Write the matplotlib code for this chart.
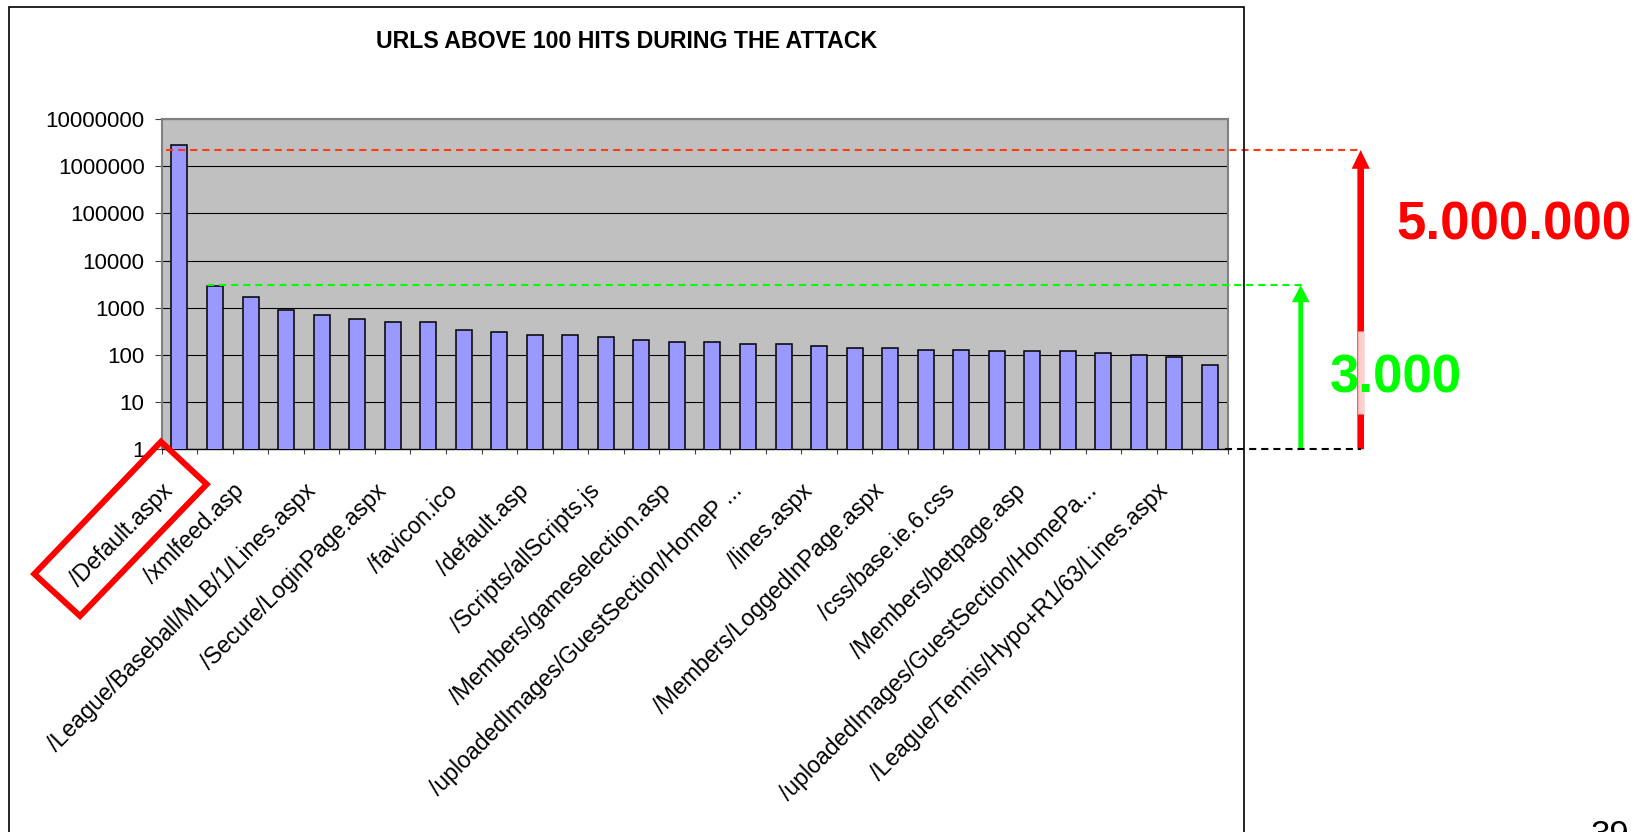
import matplotlib
matplotlib.use('Agg')
import matplotlib.pyplot as plt
import matplotlib.transforms as mtransforms
from matplotlib.patches import Polygon, Rectangle
from matplotlib.ticker import NullLocator
import numpy as np

W, H = 1643, 832

# hits per URL during the attack, sorted descending
hits = [2870000, 2930, 1700, 890, 700, 580, 487, 487, 345, 313,
        266, 266, 241, 205, 185, 185, 171, 171, 158, 143,
        143, 130, 130, 122, 122, 122, 110, 101, 91, 60]

# only every second URL gets a label on the axis
url_labels = ['/Default.aspx', '/xmlfeed.asp', '/League/Baseball/MLB/1/Lines.aspx',
              '/Secure/LoginPage.aspx', '/favicon.ico', '/default.asp',
              '/Scripts/allScripts.js', '/Members/gameselection.asp',
              '/uploadedImages/GuestSection/HomeP ...', '/lines.aspx',
              '/Members/LoggedInPage.aspx', '/css/base.ie.6.css',
              '/Members/betpage.asp', '/uploadedImages/GuestSection/HomePa...',
              '/League/Tennis/Hypo+R1/63/Lines.aspx']

y_ticks = [1, 10, 100, 1000, 10000, 100000, 1000000, 10000000]
y_tick_labels = ['1', '10', '100', '1000', '10000', '100000', '1000000', '10000000']

peak_level = 2200000
normal_level = 3000

plt.rcParams['font.family'] = ['Liberation Sans', 'DejaVu Sans']


def fx(px):
    return px / W


def fy(py):
    return 1 - py / H


fig = plt.figure(figsize=(W / 100, H / 100), dpi=100)
fig.patch.set_facecolor('white')

# chart frame
fig.add_artist(Rectangle((fx(9), fy(845)), fx(1244.3) - fx(9), fy(7.3) - fy(845),
                         transform=fig.transFigure, fill=False, edgecolor='black', lw=1.2))

ax = fig.add_axes([fx(161.7), fy(449.3), fx(1227.7) - fx(161.7), fy(119) - fy(449.3)])
ax.set_facecolor('#c0c0c0')

x = np.arange(len(hits))
ax.bar(x, hits, width=0.45, color='#9999ff', edgecolor='black', linewidth=1.1, zorder=3)

ax.set_yscale('log')
ax.set_ylim(1, 1e7)
ax.set_xlim(-0.5, len(hits) - 0.5)
ax.set_yticks(y_ticks)
ax.set_yticklabels(y_tick_labels, fontsize=16)
ax.yaxis.set_minor_locator(NullLocator())
ax.grid(axis='y', color='black', lw=0.8, zorder=1)

ax.set_xticks(np.arange(-0.5, len(hits)))
ax.set_xticklabels([])
ax.tick_params(axis='x', direction='out', length=3.6, width=0.8, color='#404040')
ax.tick_params(axis='y', direction='out', length=4.8, width=0.8, color='#404040', pad=7.5)

for side in ['top', 'right', 'left']:
    ax.spines[side].set_color('#808080')
    ax.spines[side].set_linewidth(1.5)
ax.spines['bottom'].set_color('black')
ax.spines['bottom'].set_linewidth(1.0)

label_shift = mtransforms.ScaledTranslation(-18 / 100, -30 / 100, fig.dpi_scale_trans)
label_trans = mtransforms.blended_transform_factory(ax.transData, ax.transAxes) + label_shift
for i, name in enumerate(url_labels):
    ax.text(x[i * 2], 0, name, transform=label_trans, rotation=45, rotation_mode='anchor',
            ha='right', va='top', fontsize=16.7)

fig.text(fx(626.5), fy(41.7), 'URLS ABOVE 100 HITS DURING THE ATTACK',
         ha='center', va='center', fontsize=16.7, fontweight='bold')

# guide lines and arrows showing the jump in traffic
guide = mtransforms.blended_transform_factory(fig.transFigure, ax.transData)
dash = (0, (3.4, 2.4))
ax.plot([fx(165.7), fx(1361)], [peak_level, peak_level], transform=guide,
        color='#ff3c14', lw=1.5, ls=dash, clip_on=False, zorder=5)
ax.plot([fx(207), fx(1302)], [normal_level, normal_level], transform=guide,
        color='#00ff00', lw=1.5, ls=dash, clip_on=False, zorder=5)
ax.plot([fx(1225), fx(1361)], [1, 1], transform=guide,
        color='black', lw=1.5, ls=dash, clip_on=False, zorder=5)

ax.annotate('', xy=(fx(1300.7), normal_level), xytext=(fx(1300.7), 1),
            xycoords=guide, textcoords=guide, annotation_clip=False,
            arrowprops=dict(width=3.4, headwidth=12.7, headlength=12.2, shrink=0,
                            color='#00ff00', lw=0))
ax.annotate('', xy=(fx(1360.7), peak_level), xytext=(fx(1360.7), 1),
            xycoords=guide, textcoords=guide, annotation_clip=False,
            arrowprops=dict(width=4.8, headwidth=13, headlength=13.5, shrink=0,
                            color='#ff0000', lw=0))
fig.add_artist(plt.Line2D([fx(1360.7), fx(1360.7)], [fy(331), fy(414.3)],
                          transform=fig.transFigure, color='#ffd0d0', lw=4.8,
                          solid_capstyle='butt'))

fig.text(fx(1396.7), fy(240), '5.000.000', color='#ff0000', fontsize=38,
         fontweight='bold', ha='left', va='baseline')
fig.text(fx(1330), fy(393), '3.000', color='#00ff00', fontsize=38,
         fontweight='bold', ha='left', va='baseline')

# highlight box around the top URL
fig.add_artist(Polygon([(fx(161), fy(441.7)), (fx(206.7), fy(484.3)),
                        (fx(80), fy(616)), (fx(34.3), fy(574))],
                       closed=True, fill=False, edgecolor='#ff0000', lw=4.3,
                       transform=fig.transFigure))

# slide page number, runs off the bottom edge
fig.text(fx(1591), fy(845), '39', fontsize=25, ha='left', va='baseline')

fig.savefig('out.png', dpi=100)
